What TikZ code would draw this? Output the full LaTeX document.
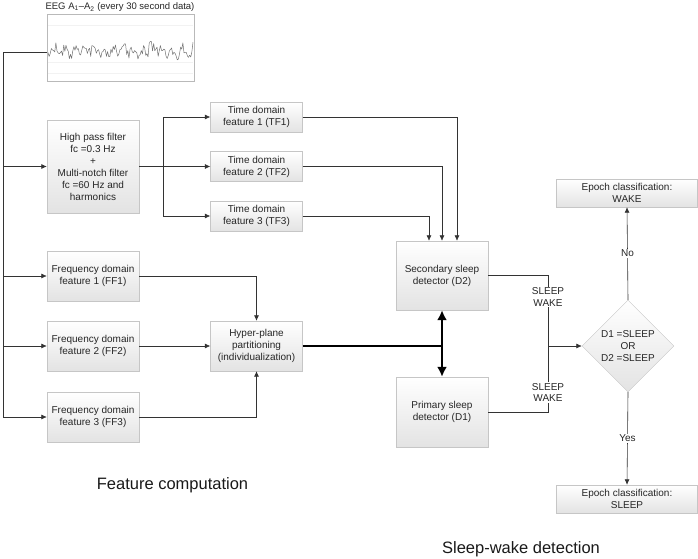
\documentclass[tikz,border=0pt]{standalone}
\usepackage{fontspec}
\setmainfont{Liberation Sans}
\usetikzlibrary{arrows.meta,shapes.geometric}

\tikzset{
  bloc/.style={draw=gray!45, top color=white, bottom color=gray!22, align=center,
    inner sep=1pt, minimum width=92pt, text=black!85,
    font=\fontsize{10}{12}\selectfont},
  lab/.style={align=center, inner sep=1pt, text=black!85, font=\fontsize{10}{11.5}\selectfont},
  fl/.style={-{Latex[length=5.5pt,width=5pt]}, black!80, line width=0.6pt},
  trait/.style={black!80, line width=0.6pt},
  gros/.style={black, line width=2.8pt},
}

\begin{document}
\begin{tikzpicture}[x=1pt,y=-1pt]
\useasboundingbox (0,0) rectangle (698,558);

% signal EEG
\node[draw=gray!55, minimum width=147pt, minimum height=67pt, inner sep=0] (eeg) at (120.5,47.5) {};
\draw[gray!10] (48,25) -- (193,25);
\draw[gray!10] (48,62) -- (193,62);
\draw[gray!10] (48,73) -- (193,73);
\pgfmathsetseed{12}
\draw[black!55, line width=0.5pt, line join=round] plot[domain=48:193, samples=130, variable=\t]
  (\t,{51+5*rand+3*sin(\t*37)+2*sin(\t*11)-15*exp(-min(abs(\t-150),20)^2/1.5)+11*exp(-min(abs(\t-190),20)^2/1.2)});
\node[lab, font=\fontsize{9.5}{10}\selectfont] (titre) at (120,7)
  {EEG A\textsubscript{1}--A\textsubscript{2} (every 30 second data)};

% blocs de gauche
\node[bloc, minimum height=93pt] (hpf) at (93,166.5)
  {High pass filter\\fc =0.3 Hz\\+\\Multi-notch filter\\fc =60 Hz and\\harmonics};
\node[bloc, minimum height=50pt] (ff1) at (93,276) {Frequency domain\\feature 1 (FF1)};
\node[bloc, minimum height=50pt] (ff2) at (93,346) {Frequency domain\\feature 2 (FF2)};
\node[bloc, minimum height=50pt] (ff3) at (93,417) {Frequency domain\\feature 3 (FF3)};

\node[bloc, minimum height=30pt] (tf1) at (256.5,117) {Time domain\\feature 1 (TF1)};
\node[bloc, minimum height=30pt] (tf2) at (256.5,166.5) {Time domain\\feature 2 (TF2)};
\node[bloc, minimum height=30pt] (tf3) at (256.5,216) {Time domain\\feature 3 (TF3)};
\node[bloc, minimum height=50pt] (hyp) at (256.5,346) {Hyper-plane\\partitioning\\(individualization)};

% detecteurs
\node[bloc, minimum height=69pt] (d2) at (442,275.5) {Secondary sleep\\detector (D2)};
\node[bloc, minimum height=70pt] (d1) at (442,412) {Primary sleep\\detector (D1)};
\node[lab] (lab2) at (548,297) {SLEEP\\WAKE};
\node[lab] (lab1) at (548,392.5) {SLEEP\\WAKE};

% decision
\node[diamond, draw=gray!45, top color=white, bottom color=gray!22, minimum width=92pt,
  minimum height=92pt, inner sep=0pt, align=center, text=black!85,
  font=\fontsize{10}{12}\selectfont] (dec) at (628,346) {D1 =SLEEP\\OR\\D2 =SLEEP};
\node[bloc, minimum width=141pt, minimum height=28pt] (wake) at (627,193) {Epoch classification:\\WAKE};
\node[bloc, minimum width=141pt, minimum height=28pt] (sleep) at (627,499) {Epoch classification:\\SLEEP};

% liaisons
\coordinate (bus) at (3,52);
\draw[trait] ([yshift=-4.5pt]eeg.west) -- (bus);
\draw[fl] (bus) |- (ff3.west);
\draw[fl] (bus |- hpf.west) -- (hpf.west);
\draw[fl] (bus |- ff1.west) -- (ff1.west);
\draw[fl] (bus |- ff2.west) -- (ff2.west);

\coordinate (split) at (163,166.5);
\draw[trait] (hpf.east) -- (split);
\draw[fl] (split) |- (tf1.west);
\draw[fl] (split) -- (tf2.west);
\draw[fl] (split) |- (tf3.west);

\draw[fl] (tf1.east) -| ([xshift=15pt]d2.north);
\draw[fl] (tf2.east) -| (d2.north);
\draw[fl] (tf3.east) -| ([xshift=-13pt]d2.north);

\draw[fl] (ff1.east) -| (hyp.north);
\draw[fl] (ff2.east) -- (hyp.west);
\draw[fl] (ff3.east) -| (hyp.south);

\draw[gros] (hyp.east) -- (hyp.east -| d2.south);
\draw[gros, {Latex[length=10pt,width=10pt]}-{Latex[length=10pt,width=10pt]}] (d2.south) -- (d1.north);

\draw[trait] (d2.east) -| (lab2.north);
\draw[trait] (lab2.south) -- (lab1.north);
\draw[trait] (d1.east) -| (lab1.south);
\draw[fl] (lab2.south |- dec.west) -- (dec.west);

\draw[fl] (dec.north) -- node[lab, fill=white] (no) {No} (wake.south);
\draw[fl] (dec.south) -- node[lab, fill=white] (yes) {Yes} (sleep.north);

% titres
\node[text=black!90, font=\fontsize{16.5}{19}\selectfont] (fc) at (172.5,485) {Feature computation};
\node[text=black!90, font=\fontsize{16.5}{19}\selectfont] (sw) at (521,549) {Sleep-wake detection};
\end{tikzpicture}
\end{document}
